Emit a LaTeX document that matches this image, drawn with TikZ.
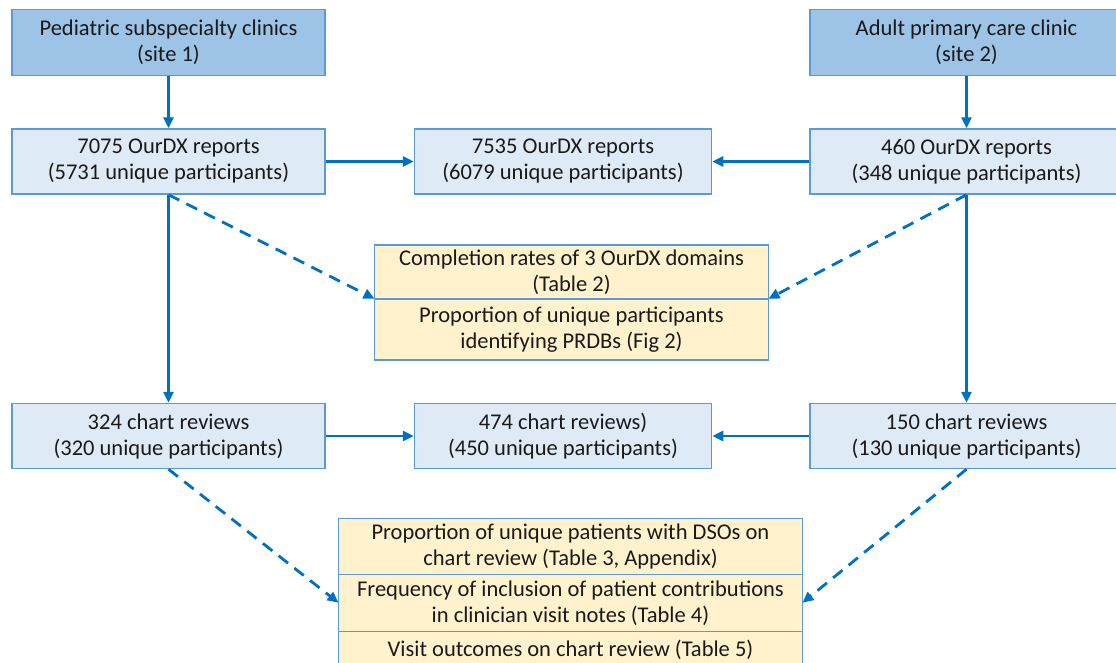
\documentclass[tikz,border=0pt]{standalone}
\usepackage{fontspec}
\setmainfont{Carlito}
\usetikzlibrary{arrows.meta,positioning}
\definecolor{ink}{HTML}{1A1A1A}
\definecolor{sitefill}{HTML}{9DC3E6}
\definecolor{boxfill}{HTML}{DEEBF7}
\definecolor{resfill}{HTML}{FFF2CC}
\definecolor{edge}{HTML}{5B9BD5}
\definecolor{flow}{HTML}{0070C0}

\begin{document}
\begin{tikzpicture}[
  x=1pt, y=1pt,
  every node/.style={font=\fontsize{22.5}{26}\selectfont, text=ink},
  site/.style={rectangle, draw=edge, line width=1.5pt, fill=sitefill, minimum width=313pt, minimum height=66pt, align=center, inner sep=0pt},
  count/.style={site, fill=boxfill, minimum height=65pt},
  result/.style={rectangle, draw=edge, line width=1.5pt, fill=resfill, align=center, inner sep=0pt, outer sep=0pt},
  arrow/.style={-{Triangle[length=11pt,width=10pt]}, line width=2.8pt, draw=flow},
  dasharrow/.style={arrow, dash pattern=on 12pt off 8pt}
]
\useasboundingbox (0,0) rectangle (1116,-662);

\node[site] (site1) at (168.5,-42.5) {Pediatric subspecialty clinics\\(site 1)};
\node[site] (site2) at (966.5,-42.5) {Adult primary care clinic\\(site 2)};

\node[count, below=52pt of site1] (rep1) {7075 OurDX reports\\(5731 unique participants)};
\node[count, below=52pt of site2] (rep2) {460 OurDX reports\\(348 unique participants)};
\node[count, minimum width=297pt, right=88pt of rep1] (repall) {7535 OurDX reports\\(6079 unique participants)};

\node[result, minimum width=394pt, minimum height=54pt, below=50pt of repall, xshift=8.5pt] (dom) {Completion rates of 3 OurDX domains\\(Table 2)};
\node[result, minimum width=394pt, minimum height=61pt, below=0pt of dom] (prdb) {Proportion of unique participants\\identifying PRDBs (Fig 2)};

\node[count, below=208pt of rep1] (chart1) {324 chart reviews\\(320 unique participants)};
\node[count, below=208pt of rep2] (chart2) {150 chart reviews\\(130 unique participants)};
\node[count, minimum width=297pt, below=208pt of repall] (chartall) {474 chart reviews)\\(450 unique participants)};

\node[result, minimum width=464pt, minimum height=56pt, below=49pt of chartall, xshift=7.5pt] (dso) {Proportion of unique patients with DSOs on\\chart review (Table 3, Appendix)};
\node[result, minimum width=464pt, minimum height=57pt, below=0pt of dso] (notes) {Frequency of inclusion of patient contributions\\in clinician visit notes (Table 4)};
\node[result, minimum width=464pt, minimum height=37pt, below=0pt of notes] (outc) {Visit outcomes on chart review (Table 5)};

% solid flow
\draw[arrow] (site1) -- (rep1);
\draw[arrow] (site2) -- (rep2);
\draw[arrow] (rep1) -- (repall);
\draw[arrow] (rep2) -- (repall);
\draw[arrow] (rep1) -- (chart1);
\draw[arrow] (rep2) -- (chart2);
\draw[arrow] (chart1) -- (chartall);
\draw[arrow] (chart2) -- (chartall);

% dashed links to results
\draw[dasharrow] (rep1.south) -- (dom.south west);
\draw[dasharrow] (rep2.south) -- (dom.south east);
\draw[dasharrow] (chart1.south) -- (notes.west);
\draw[dasharrow] (chart2.south) -- (notes.east);
\end{tikzpicture}
\end{document}
